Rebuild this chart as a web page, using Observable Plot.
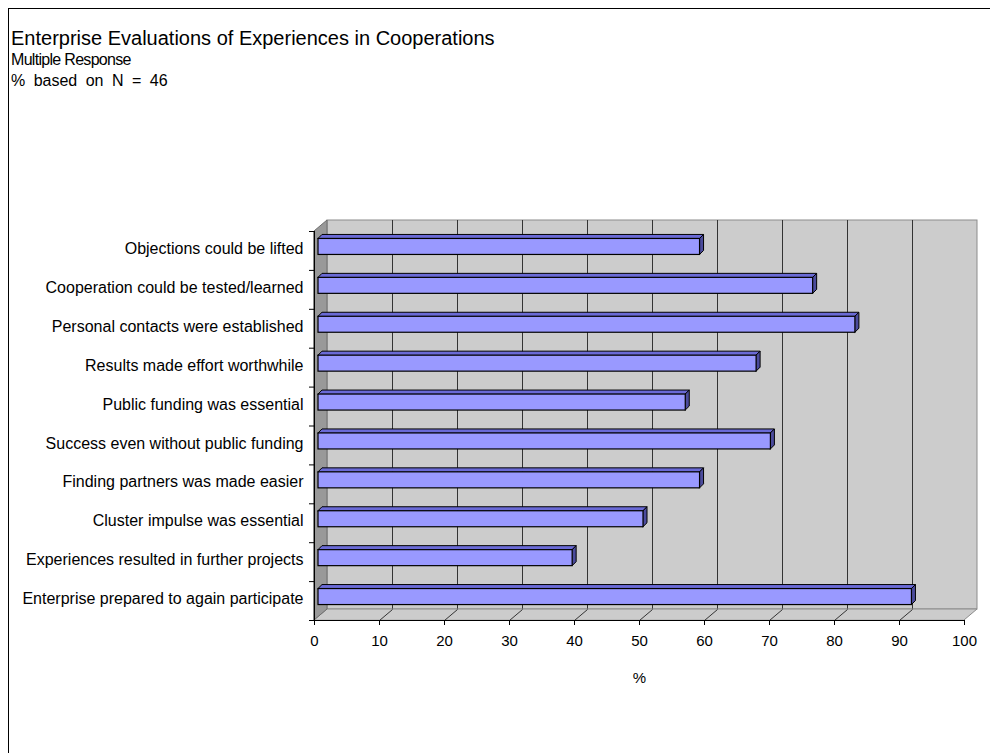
<!DOCTYPE html>
<html>
<head>
<meta charset="utf-8">
<script src="https://cdn.jsdelivr.net/npm/d3@7"></script>
<script src="https://cdn.jsdelivr.net/npm/@observablehq/plot@0.6"></script>
<style>
  html, body { margin: 0; padding: 0; background: #fff; }
  #wrap { position: relative; width: 990px; height: 753px; overflow: hidden; font-family: "Liberation Sans", Arial, sans-serif; color: #000; }
  #frame { position: absolute; left: 8px; top: 8px; width: 1100px; height: 900px; border-left: 1px solid #000; border-top: 1px solid #000; }
  .t { position: absolute; left: 11px; white-space: nowrap; line-height: 1; font-family: "Liberation Sans", Arial, sans-serif; }
  #title { top: 28px; font-size: 20px; }
  #sub1 { top: 52px; font-size: 16px; letter-spacing: -0.7px; }
  #sub2 { top: 73px; font-size: 16px; word-spacing: 4px; }
  #chart { position: absolute; left: 0; top: 0; }
</style>
</head>
<body>
<div id="wrap">
  <div id="frame"></div>
  <div class="t" id="title">Enterprise Evaluations of Experiences in Cooperations</div>
  <div class="t" id="sub1">Multiple Response</div>
  <div class="t" id="sub2">% based on N = 46</div>
  <div id="chart"></div>
</div>
<script>
// ---- data (top to bottom as in the chart) ----
const categories = [
  "Objections could be lifted",
  "Cooperation could be tested/learned",
  "Personal contacts were established",
  "Results made effort worthwhile",
  "Public funding was essential",
  "Success even without public funding",
  "Finding partners was made easier",
  "Cluster impulse was essential",
  "Experiences resulted in further projects",
  "Enterprise prepared to again participate"
];
const values = [58.7, 76.1, 82.6, 67.4, 56.5, 69.6, 58.7, 50.0, 39.1, 91.3];
const xTicks = [0, 10, 20, 30, 40, 50, 60, 70, 80, 90, 100];
const xLabel = "%";

// ---- layout ----
const W = 990, H = 753;
const mL = 314, mR = 26, mT = 231, mB = 133;
const n = categories.length;
const pxX = (W - mL - mR) / 100;
const pxY = (H - mT - mB) / n;
const depthX = 13, depthY = 11;           // wall depth in px
const dU = depthX / pxX, eU = depthY / pxY; // in data units
const barHalf = 8 / pxY;
const bOff = 4;                            // bar front offset in px
const bxU = 4 / pxX, byU = 4 / pxY;        // bar depth in data units

const rows = categories.map((c, i) => ({category: c, value: values[i], k: n - 1 - i}));
const rowCenter = r => r.k + 0.5;

const wall = [{x1: 0, x2: 100, y1: 0, y2: n}];
const leftWall = [{x: 0, y1: 0, y2: n}, {x: dU, y1: eU, y2: n + eU}];
const floor = [{y: 0, x1: 0, x2: 100}, {y: eU, x1: dU, x2: 100 + dU}];
const inner = xTicks.filter(v => v > 0 && v < 100);

const topFaces = rows.flatMap(r => [
  {category: r.category, y: rowCenter(r) + barHalf, x1: 0, x2: r.value},
  {category: r.category, y: rowCenter(r) + barHalf + byU, x1: bxU, x2: r.value + bxU}
]);
const sideFaces = rows.flatMap(r => [
  {category: r.category, x: r.value, y1: rowCenter(r) - barHalf, y2: rowCenter(r) + barHalf},
  {category: r.category, x: r.value + bxU, y1: rowCenter(r) - barHalf + byU, y2: rowCenter(r) + barHalf + byU}
]);

const chart = Plot.plot({
  width: W, height: H,
  marginLeft: mL, marginRight: mR, marginTop: mT, marginBottom: mB,
  style: {fontFamily: "'Liberation Sans', Arial, sans-serif", color: "#000", background: "transparent", overflow: "visible"},
  x: {domain: [0, 100]},
  y: {domain: [0, n]},
  marks: [
    // back wall
    Plot.rect(wall, {x1: "x1", x2: "x2", y1: "y1", y2: "y2", dx: depthX, dy: -depthY, fill: "#cccccc", stroke: "#8c8c8c"}),
    Plot.ruleX(inner, {y1: 0, y2: n, dx: depthX, dy: -depthY, stroke: "#333333", strokeWidth: 1}),
    // floor
    Plot.areaX(floor, {y: "y", x1: "x1", x2: "x2", fill: "#cccccc", stroke: "#8c8c8c"}),
    Plot.link(inner, {x1: d => d, y1: 0, x2: d => d + dU, y2: eU, stroke: "#333333"}),
    // left wall
    Plot.areaY(leftWall, {x: "x", y1: "y1", y2: "y2", fill: "#999999", stroke: "#6e6e6e"}),
    // bars: top, side, front
    Plot.areaX(topFaces, {y: "y", x1: "x1", x2: "x2", z: "category", fill: "#6a6ad6", stroke: "#000", strokeWidth: 1, dx: bOff, dy: -bOff}),
    Plot.areaY(sideFaces, {x: "x", y1: "y1", y2: "y2", z: "category", fill: "#4b4b9c", stroke: "#000", strokeWidth: 1, dx: bOff, dy: -bOff}),
    Plot.rect(rows, {x1: () => 0, x2: "value", y1: r => rowCenter(r) - barHalf, y2: r => rowCenter(r) + barHalf, fill: "#9999ff", stroke: "#000", strokeWidth: 1.2, dx: bOff, dy: -bOff}),
    // axes
    Plot.ruleX([0], {y1: 0, y2: n, stroke: "#000"}),
    Plot.ruleY([0], {stroke: "#000"}),
    Plot.axisY({ticks: d3.range(0, n + 1), tickSize: 5, tickFormat: () => "", label: null}),
    Plot.axisY({ticks: rows.map(rowCenter), tickSize: 0, tickPadding: 11, fontSize: 16, dy: -2, label: null,
                tickFormat: v => categories[n - 1 - Math.floor(v)]}),
    Plot.axisX({ticks: xTicks, tickSize: 5, tickPadding: 10, fontSize: 15, label: null, tickFormat: d => String(d)}),
    Plot.text([xLabel], {x: () => 50, frameAnchor: "bottom", dy: 62, text: d => d, fontSize: 15})
  ]
});
document.getElementById("chart").appendChild(chart);
</script>
</body>
</html>
